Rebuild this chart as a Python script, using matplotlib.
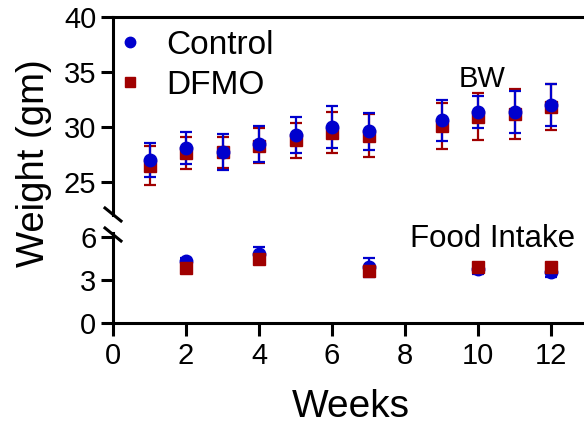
import matplotlib
matplotlib.use("Agg")
import matplotlib.pyplot as plt
from matplotlib.lines import Line2D

plt.rcParams['font.family'] = ['Liberation Sans', 'DejaVu Sans']

# body weight (gm)
weeks_bw = [1, 2, 3, 4, 5, 6, 7, 9, 10, 11, 12]
ctrl_bw = [27.0, 28.1, 27.7, 28.45, 29.3, 30.0, 29.6, 30.6, 31.35, 31.4, 32.0]
ctrl_bw_err = [1.55, 1.45, 1.65, 1.65, 1.65, 1.9, 1.7, 1.85, 1.45, 1.9, 1.9]
dfmo_bw = [26.5, 27.6, 27.7, 28.3, 28.8, 29.5, 29.2, 30.1, 30.95, 31.2, 31.8]
dfmo_bw_err = [1.8, 1.45, 1.4, 1.6, 1.6, 1.85, 1.95, 2.1, 2.1, 2.25, 2.1]

# food intake
weeks_fi = [2, 4, 7, 10, 12]
ctrl_fi = [4.35, 4.85, 3.9, 3.75, 3.6]
ctrl_fi_err = [0.2, 0.5, 0.65, 0.3, 0.35]
dfmo_fi = [3.85, 4.45, 3.65, 3.95, 3.9]
dfmo_fi_err = [0.15, 0.15, 0.15, 0.1, 0.1]

top_ticks = [25, 30, 35, 40]
bot_ticks = [0, 3, 6]
x_ticks = [0, 2, 4, 6, 8, 10, 12]

BLUE = '#0000cd'
RED = '#a00000'
LW = 2.2

fig = plt.figure(figsize=(5.84, 4.26), dpi=100)
ax_top = fig.add_axes([0.1935, 0.4953, 0.8125, 0.4648])
ax_bot = fig.add_axes([0.1935, 0.2418, 0.8125, 0.2113])

def style(ax):
    ax.tick_params(axis='both', labelsize=21, width=LW, length=9, pad=3)
    for s in ax.spines.values():
        s.set_linewidth(LW)
    ax.spines['right'].set_visible(False)

# top panel: body weight
ax_top.errorbar(weeks_bw, dfmo_bw, yerr=dfmo_bw_err, fmt='s', color=RED, ms=8,
                capsize=4, elinewidth=1.6, capthick=1.6)
ax_top.errorbar(weeks_bw, ctrl_bw, yerr=ctrl_bw_err, fmt='o', color=BLUE, ms=9,
                capsize=4, elinewidth=1.6, capthick=1.6)
ax_top.set_xlim(0, 13)
ax_top.set_ylim(22, 40)
ax_top.set_yticks(top_ticks)
ax_top.set_xticks([])
ax_top.spines['bottom'].set_visible(False)
style(ax_top)
ax_top.text(10.1, 34.4, 'BW', fontsize=21, ha='center', va='center')

handles = [Line2D([], [], ls='none', marker='o', color=BLUE, ms=7.5),
           Line2D([], [], ls='none', marker='s', color=RED, ms=7.5)]
ax_top.legend(handles, ['Control', 'DFMO'], loc='upper left', frameon=False,
              fontsize=24, handlelength=1.0, handletextpad=0.6,
              borderaxespad=0, labelspacing=0.27, borderpad=0,
              bbox_to_anchor=(0.0, 0.934))

# bottom panel: food intake
ax_bot.errorbar(weeks_fi, ctrl_fi, yerr=ctrl_fi_err, fmt='o', color=BLUE, ms=9,
                capsize=4, elinewidth=1.6, capthick=1.6)
ax_bot.errorbar(weeks_fi, dfmo_fi, yerr=dfmo_fi_err, fmt='s', color=RED, ms=8,
                capsize=4, elinewidth=1.6, capthick=1.6)
ax_bot.set_xlim(0, 13)
ax_bot.set_ylim(0, 6.3)
ax_bot.set_yticks(bot_ticks)
ax_bot.set_xticks(x_ticks)
ax_bot.spines['top'].set_visible(False)
style(ax_bot)
ax_bot.tick_params(axis='x', pad=5)
ax_bot.text(10.4, 5.9, 'Food Intake', fontsize=22.5, ha='center', va='center')

# break marks on the y axis
kw = dict(transform=fig.transFigure, color='k', lw=LW, clip_on=False)
for y0 in [208, 228]:
    fig.add_artist(Line2D([105 / 584, 121 / 584], [1 - y0 / 426, 1 - (y0 + 13) / 426], **kw))

fig.text(0.058, 0.618, 'Weight (gm)', fontsize=27.5, rotation=90, ha='center', va='center')
fig.text(0.6, 0.045, 'Weeks', fontsize=28, ha='center', va='center')

fig.savefig('out.png', dpi=100)
